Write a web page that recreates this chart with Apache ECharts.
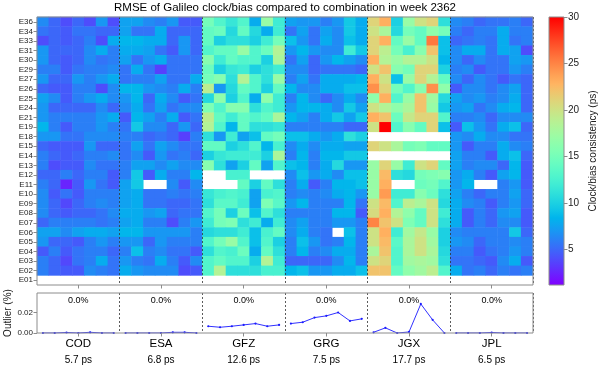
<!DOCTYPE html>
<html>
<head>
<meta charset="utf-8">
<script src="https://cdn.jsdelivr.net/npm/echarts@6/dist/echarts.min.js"></script>
<style>html,body{margin:0;padding:0;background:#fff}#c{width:600px;height:368px}</style>
</head>
<body>
<div id="c"></div>
<script>
// ---------------- DATA ----------------
const satellites = ['E36','E34','E33','E31','E30','E29','E27','E26','E25','E24','E21','E19','E18','E15','E14','E13','E12','E11','E10','E09','E08','E07','E06','E05','E04','E03','E02','E01'];
const centers = ['COD','ESA','GFZ','GRG','JGX','JPL'];
const days = ['0','1','2','3','4','5','6'];
const meanRmse = ['5.7 ps','6.8 ps','12.6 ps','7.5 ps','17.7 ps','6.5 ps'];
const outlierText = ['0.0%','0.0%','0.0%','0.0%','0.0%','0.0%'];
const N = null;
// RMSE (ps), rows = satellites (top to bottom), columns = days
const rmseCOD = [
[6.5,5,4,5,4,7,4],[5.5,5,4.5,5.5,5.5,5,5],[4,5,4.5,5,6,4,8],[7,5,5,5,6.5,8,6],[7,5,4.5,5,6.5,5.5,6],
[6,6,4.5,5.5,6,6,6.5],[7,5,5,7,6,7,8],[5,4.5,4.5,6,6,4,6.5],[7.5,6.5,4.5,6,7,8,6.5],[7,5,5,5,5,6.5,5],
[7,6,6,6,6,7,8],[8.5,6,4.5,6,6,7,6],[7,7,5.5,5.5,6.5,6.5,6.5],[5,4.5,4.5,4.5,7,5,5],[6,5,4.5,5,6,6,6.5],
[6,4,4.5,4.5,6.5,5.5,5.5],[5,5,6,5,6,6,4.5],[6,5,2.5,4.5,7,5.5,4.5],[6.5,4.5,5.5,4.5,6,6,6],[6.5,5,3.8,5,6,6.5,6],
[6.5,5,4.5,5,5,5.5,6.5],[5,6,6,6,6,5.5,6],[7.5,7.5,6.5,7.5,8,8,7.5],[7,5,5,4.5,6,7,6],[4.5,6,4.5,5.5,6,6,5],
[6,5,3.8,5.5,6,8,5.5],[6,5,4.5,4.5,6.5,6,5.5],[N,N,N,N,N,N,N]];
const rmseESA = [
[7.5,7.5,6.5,6,7,4.5,4.5],[7.5,5.5,5.5,8,5,5,5],[8.5,8.5,8,8,5,7,5],[8,8,7.5,5.5,4.5,7,5],[7.5,5.5,7,8,5.5,5.5,5.5],
[5.5,8,5.5,3.5,5.5,5.5,5.5],[5.5,6,6,7.5,5.5,5.5,8],[8.5,8.5,7,6.5,6,8,6],[7,8.5,5,8,6.5,4.5,5.5],[6.5,8,5.5,7.5,5.5,6.5,6.5],
[4.5,8.5,7.5,6,8,4.5,5.5],[5.5,9.5,6.5,6.5,5,7,5],[6,6,5,5.5,5,3.5,6],[5.5,7.5,5.5,7.5,6.5,5.5,5.5],[5.5,6.5,4.5,7,5.5,6,5],
[6,7.5,7.5,6.5,7.5,6.5,6.5],[6,9.5,4.5,8,6,6,8.5],[7.5,9.5,N,N,6.5,4.5,6.5],[7.5,8,5.5,5.5,6,5.5,6],[7.5,8,5.5,5.5,5,5,5.5],
[8,8,7,7.5,5,5.5,5.5],[7.5,8,6,6,4,6,7],[8.5,8.5,7,7,7,7,6],[7,7,5,7,6,6,6],[6,9,6,6.5,5.5,5.5,4.5],
[7,6,5.5,8,6,4.5,6.5],[8,7,6.5,6.5,6.5,4,4.5],[N,N,N,N,N,N,N]];
const rmseGFZ = [
[15,13,11.5,13,8,17,12],[14,14.5,10.5,14,10.5,8,12],[14,10,11,11,10,12,15],[13,14,14,17,13,14.5,18.5],[16,12,14,13,13,10,18],
[14.5,10,11.5,12,10,11,12],[15,16,11,18.5,13,11,17],[19,7,10.5,14,13,10,14],[10.5,16.5,10,13,8,16.5,12],[15.5,13,16,16,11,13,12],
[19,14,12,14,13,14,18],[18.5,13,8.5,14,11,11,11.5],[11,7,12,7.5,9,14,15],[14,14,10,11,13,8.5,12.5],[10,11.5,12,12,12,10,18],
[16,11,7.5,10,14,7.5,13],[N,N,12.5,12.5,N,N,N],[N,N,N,14,10,14,11],[11.5,12.5,13,12.5,7.5,12.5,13],[11,13.5,13.5,12,7.5,15.5,13.5],
[13,15,10,14.5,9,13,11],[12,15,15.5,11,12,8,12],[10.5,11,11,12,9,12.5,14],[13,15,17,13,9,13,10],[11,13,12.5,14.5,8,14,11],
[13,14,13,13,10,18.5,12],[13,18.5,11,11,11,12.5,12.5],[N,N,N,N,N,N,N]];
const rmseGRG = [
[7.5,7,7,6,7,9.5,8],[5.5,7.5,5.5,7.5,6.5,9.5,8],[9,7,5.5,8,6.5,9,8],[7,8.5,7,6.5,6.5,12,9.5],[5.5,7.5,5,7,8.5,7.5,6.5],
[6.5,6.5,5,5.5,5.5,5.5,5],[6,7.5,5.5,8,8,8,8.5],[8.5,6.5,6.5,8,8,9,9],[6,8.5,6.5,5,6.5,8,6.5],[7,8.5,8.5,8,6.5,9.5,7.5],
[8.5,7.5,6,8,9.5,7.5,9.5],[6,6,6,6,6,5,5],[9,9,8,7,8,11,10],[6.5,8,6.5,8,8,7.5,7.5],[6,8.5,6,8.5,8.5,9.5,9.5],
[9,8.5,6,8,10.5,7,7],[6.5,9,7,8,6.5,9,9],[6,8,4.5,6,8.5,8.5,9],[6,6.5,6,6.5,8,8.5,7],[7,8.5,6,6,6,8.5,5.5],
[6,6,6,6,8.5,8.5,4.5],[6.5,7.5,6,6,7,7,6],[6.5,8,6,5.5,N,9,6],[6,9,7,5.5,6,8.5,6],[6,8.5,6,6.5,8,8,6],
[5,5,5,5,6.5,8.5,6],[8.5,9,7,7,8,8,9],[N,N,N,N,N,N,N]];
const rmseJGX = [
[21,23,10,17,20,21,11],[20,18,10.5,15,14,16.5,15],[21,23,14,17,14,25.5,9],[21,19,15,12.5,16,22,9],[23,18.5,17,18.5,18.5,20,8.5],
[20,22,16,15,21,21,10],[23,20,9,17,21,18.5,14],[24.5,21,15,13,16,24.5,16.5],[16.5,23,13,17,22,17.5,10.5],[20,18.5,16.5,18,22,17,9.5],
[23,22,14.5,19.5,21,21,13],[20,30,13,16,14,21,9],[N,N,N,N,N,N,N],[21,20,18,15,15.5,14,14],[N,N,N,N,N,N,N],
[17,21,17,12,20,21,14],[17,22.5,11,10.5,15,15.5,16],[17,23,N,N,14.5,15,13],[17,24,12,12,16,14.5,11],[20,22.5,13,19,18,20,10.5],
[20.5,23,18.5,16.5,14,20,12],[25,22,20,15.5,14,20,11],[20,23,12,17.5,19.5,17,10],[20,22.5,13.5,18,20,17.5,10],[18,22,13,18,20,18,10.5],
[20,21,13,17.5,18,17.5,11],[22,22,14,16.5,17.5,19,13],[N,N,N,N,N,N,N]];
const rmseJPL = [
[6.5,6,5,5.5,5.5,6,5],[6,5,6,6,8,6,6],[5,5.5,6,5.5,8,5.5,6],[6.5,8,8,5.5,8,7.5,4],[6.5,5,6.5,5.5,5.5,7.5,7],
[6,6.5,4.5,5.5,5.5,7,6],[6.5,5,6.5,5.5,4.5,5.5,5],[4.5,6.5,6.5,5.5,6.5,7.5,5],[7.5,6.5,7,6,6.5,8,5],[7,7.5,5.5,6.5,8,8.5,5],
[6,6,6.5,5,6.5,6.5,6.5],[4.5,9,7,5.5,8,9,5],[7,6.5,8,6.5,6.5,5.5,5.5],[7,4.5,6,6,8,6.5,6],[7.5,6,6,4.5,8,9,5],
[7.5,6,6.5,6.5,5,8.5,4.5],[7,8,6,4.5,7.5,8.5,4.5],[7,8.5,N,N,6,7,4.5],[7.5,6,5,6,6,7.5,5],[8,6.5,6,4.5,6,7,5],
[8,4.5,6,5,7,7.5,4.5],[8,4.5,6,5,6.5,6.5,4.5],[6.5,6,6,6,6,9.5,5],[7,6.5,5,6,6,6.5,6],[6,6,4.5,5.5,6,7,6],
[5.5,5.5,5,4.5,6.5,8,4.5],[8,5.5,6,5,6,5.5,6],[N,N,N,N,N,N,N]];
// Outlier fraction (%) per day
const outlierCOD = [0,0,0.0005,0,0.0007,0,0];
const outlierESA = [0,0,0,0,0.0007,0.0007,0];
const outlierGFZ = [0.0066,0.0056,0.0066,0.0079,0.0092,0.0066,0.0079];
const outlierGRG = [0.0092,0.0105,0.015,0.0167,0.020,0.0118,0.0138];
const outlierJGX = [0.0007,0.005,0,0.001,0.0283,0.0128,0];
const outlierJPL = [0,0,0,0.0005,0,0,0];
const colorbarTicks = [5,10,15,20,25,30];

// ---------------- BUILD ----------------
const rmseSets = [rmseCOD, rmseESA, rmseGFZ, rmseGRG, rmseJGX, rmseJPL];
const outlierSets = [outlierCOD, outlierESA, outlierGFZ, outlierGRG, outlierJGX, outlierJPL];
const nd = days.length;
const xCats = [];
centers.forEach(c => days.forEach(d => xCats.push(c + '-' + d)));
const yCats = satellites.slice().reverse();
const heat = [];
rmseSets.forEach((set, ci) => set.forEach((row, r) => row.forEach((v, d) => {
  if (v !== null) heat.push([ci * nd + d, satellites.length - 1 - r, v]);
})));

// matplotlib "rainbow" colormap
function rainbow(t) {
  const r = Math.min(1, Math.abs(2 * t - 0.5));
  const g = Math.sin(t * Math.PI);
  const b = Math.cos(t * Math.PI / 2);
  return 'rgb(' + Math.round(r * 255) + ',' + Math.round(g * 255) + ',' + Math.round(b * 255) + ')';
}
const cmap = [];
for (let i = 0; i <= 40; i++) cmap.push(rainbow(i / 40));
const cstops = cmap.map((c, i) => ({offset: 1 - i / 40, color: c}));

const vmin = 1.2, vmax = 30;
const FONT = 'Liberation Sans, Arial, sans-serif';
const GRID_L = 37, GRID_W = 496;
const spine = '#8c8c8c';

const lineSeries = outlierSets.map((vals, ci) => {
  const arr = xCats.map(() => '-');
  vals.forEach((v, d) => { arr[ci * nd + d] = v; });
  return {
    type: 'line', xAxisIndex: 1, yAxisIndex: 1, data: arr,
    symbol: 'circle', symbolSize: 2.2, showSymbol: true,
    lineStyle: {color: '#1a1aff', width: 0.9},
    itemStyle: {color: '#1a1aff'},
    connectNulls: false, animation: false, z: 3
  };
});

const gridCommon = {show: true, borderColor: spine, borderWidth: 1, backgroundColor: 'rgba(0,0,0,0)', z: 10,
  containLabel: false, outerBoundsMode: 'none'};

const chart = echarts.init(document.getElementById('c'), null, {renderer: 'canvas'});
chart.setOption({
  animation: false,
  backgroundColor: '#fff',
  textStyle: {fontFamily: FONT},
  title: {
    text: 'RMSE of Galileo clock/bias compared to combination in week 2362',
    left: 285, top: 2, padding: 0, textAlign: 'center',
    textStyle: {fontFamily: FONT, fontSize: 11.5, fontWeight: 'normal', color: '#000'}
  },
  grid: [
    Object.assign({left: GRID_L, top: 17, width: GRID_W, height: 268}, gridCommon),
    Object.assign({left: GRID_L, top: 293, width: GRID_W, height: 40}, gridCommon),
    Object.assign({left: 549, top: 17, width: 15, height: 268}, gridCommon)
  ],
  visualMap: {
    type: 'continuous', show: false, min: vmin, max: vmax, seriesIndex: 0, dimension: 2,
    inRange: {color: cmap}
  },
  xAxis: [
    {type: 'category', gridIndex: 0, data: xCats, z: 5,
     axisLine: {show: false},
     axisTick: {show: true, alignWithLabel: true, interval: (i) => i % nd === 3, length: 3.5, lineStyle: {color: spine}},
     axisLabel: {show: false},
     splitLine: {show: true, interval: (i) => i % nd === 0 && i > 0, lineStyle: {color: '#333', type: [2, 2], width: 0.8}}},
    {type: 'category', gridIndex: 1, data: xCats, z: 5,
     axisLine: {show: false},
     axisTick: {show: true, alignWithLabel: true, interval: (i) => i % nd === 3, length: 3.5, lineStyle: {color: spine}},
     axisLabel: {show: true, interval: (i) => i % nd === 3, margin: 3, color: '#000',
       formatter: (v, i) => '{n|' + centers[Math.floor(i / nd)] + '}\n{r|' + meanRmse[Math.floor(i / nd)] + '}',
       rich: {n: {fontSize: 11.5, lineHeight: 16, fontFamily: FONT, color: '#000'}, r: {fontSize: 10, lineHeight: 16, fontFamily: FONT, color: '#000'}}},
     splitLine: {show: true, interval: (i) => i % nd === 0 && i > 0, lineStyle: {color: '#333', type: [2, 2], width: 0.8}}},
    {type: 'category', gridIndex: 1, data: xCats, position: 'top',
     axisLine: {show: false}, axisTick: {show: false}, splitLine: {show: false},
     axisLabel: {show: true, inside: true, interval: (i) => i % nd === 3, margin: 3, fontSize: 9, color: '#000',
       formatter: (v, i) => outlierText[Math.floor(i / nd)]}},
    {type: 'category', gridIndex: 2, data: ['cb'], show: false}
  ],
  yAxis: [
    {type: 'category', gridIndex: 0, data: yCats,
     axisLine: {show: false},
     axisTick: {show: true, alignWithLabel: true, interval: 0, length: 3.5, lineStyle: {color: spine}},
     axisLabel: {interval: 0, fontSize: 8, color: '#222', margin: 4}, splitLine: {show: false}},
    {type: 'value', gridIndex: 1, min: 0, max: 0.039, interval: 0.02,
     axisLine: {show: false},
     axisTick: {show: true, length: 3.5, lineStyle: {color: spine}},
     axisLabel: {fontSize: 8, color: '#222', margin: 4, showMaxLabel: false, formatter: (v) => v.toFixed(2)},
     splitLine: {show: false},
     name: 'Outlier (%)', nameLocation: 'middle', nameGap: 24, nameRotate: 90, nameMoveOverlap: false,
     nameTextStyle: {fontSize: 10, color: '#222', fontFamily: FONT}},
    {type: 'value', gridIndex: 2, min: vmin, max: vmax, position: 'right',
     axisLine: {show: false},
     axisTick: {show: true, length: 3.5, lineStyle: {color: spine}},
     axisLabel: {fontSize: 10, color: '#222', margin: 4, showMinLabel: false,
       formatter: (v) => colorbarTicks.indexOf(v) >= 0 ? String(v) : ''},
     splitLine: {show: false},
     name: 'Clock/bias consistency (ps)', nameLocation: 'middle', nameGap: 24, nameRotate: 90,
     nameTextStyle: {fontSize: 10, color: '#222', fontFamily: FONT}}
  ],
  series: [
    {type: 'heatmap', xAxisIndex: 0, yAxisIndex: 0, data: heat, z: 2, itemStyle: {borderWidth: 0}},
    ...lineSeries,
    {type: 'bar', xAxisIndex: 3, yAxisIndex: 2, data: [vmax], barWidth: '100%', clip: true,
     itemStyle: {color: {type: 'linear', x: 0, y: 0, x2: 0, y2: 1, colorStops: cstops}}, silent: true}
  ]
});
</script>
</body>
</html>
